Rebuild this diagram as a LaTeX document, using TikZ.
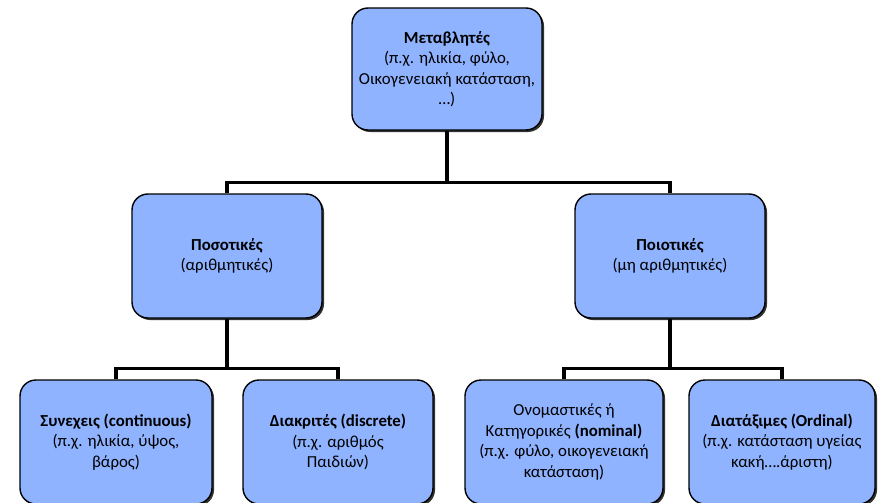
\documentclass[tikz,border=0pt]{standalone}
\usepackage{fontspec}
\setmainfont{Carlito}
\usetikzlibrary{shadows}
\definecolor{boxblue}{RGB}{143,179,255}
\tikzset{
  box/.style={draw=black,line width=1.4pt,fill=boxblue,rounded corners=16pt,
    minimum width=190pt,minimum height=122pt,align=center,
    drop shadow={shadow xshift=2pt,shadow yshift=-2pt,fill=black!80,opacity=1}},
  link/.style={line width=3.4pt}
}
\begin{document}
\begin{tikzpicture}[x=1pt,y=-1pt,font=\fontsize{16.8}{20.5}\selectfont]
  \useasboundingbox (0,0) rectangle (879,503);
  \node[box] (var) at (447,69) {\textbf{Μεταβλητές}\\(π.χ. ηλικία, φύλο,\\Οικογενειακή κατάσταση,\\…)};
  \node[box,minimum height=124pt] (quant) at (227,256) {\textbf{Ποσοτικές}\\(αριθμητικές)};
  \node[box,minimum height=124pt] (qual) at (670,256) {\textbf{Ποιοτικές}\\(μη αριθμητικές)};
  \node[box,minimum width=192pt,minimum height=124pt] (cont) at (116,442) {\textbf{Συνεχεις (continuous)}\\(π.χ. ηλικία, ύψος,\\βάρος)};
  \node[box,minimum height=124pt] (disc) at (338,442) {\textbf{Διακριτές (discrete)}\\(π.χ. αριθμός\\Παιδιών)};
  \node[box,minimum width=198pt,minimum height=124pt] (nom) at (564,442) {Ονομαστικές ή\\Κατηγορικές \textbf{(nominal)}\\(π.χ. φύλο, οικογενειακή\\κατάσταση)};
  \node[box,minimum width=186pt,minimum height=124pt] (ord) at (782,442) {\textbf{Διατάξιμες (Ordinal)}\\(π.χ. κατάσταση υγείας\\κακή….άριστη)};
  \draw[link] (var.south) -- ++(0,52) -| (quant.north);
  \draw[link] (var.south) -- ++(0,52) -| (qual.north);
  \draw[link] (quant.south) -- ++(0,50) -| (cont.north);
  \draw[link] (quant.south) -- ++(0,50) -| (disc.north);
  \draw[link] (qual.south) -- ++(0,50) -| (nom.north);
  \draw[link] (qual.south) -- ++(0,50) -| (ord.north);
\end{tikzpicture}
\end{document}
